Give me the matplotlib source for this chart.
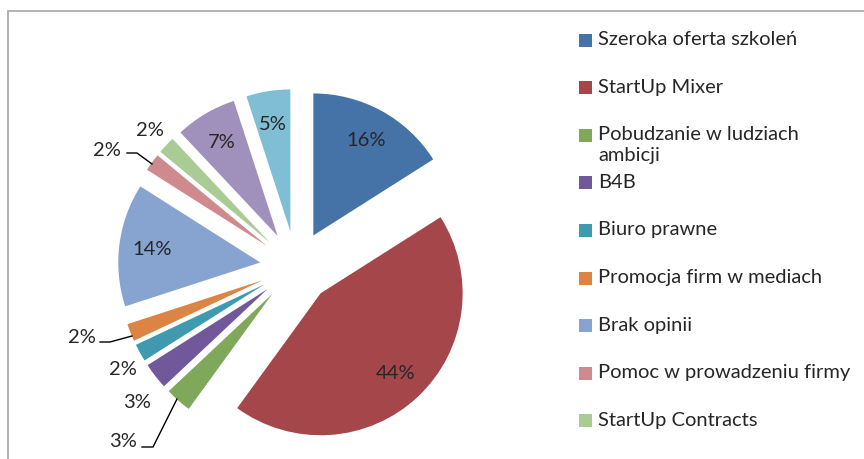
import matplotlib.pyplot as plt
from matplotlib.patches import Rectangle

plt.rcParams['font.family'] = ['Lato', 'DejaVu Sans']

# shares in clockwise order from 12 o'clock
shares = [16, 44, 3, 3, 2, 2, 14, 2, 2, 7, 5]
colors = ['#4572A7', '#A5474A', '#80A85A', '#71589B', '#3F9AAF', '#DB8444',
          '#87A3CF', '#CF8A8D', '#A8CC94', '#9F91BC', '#80BED5']
# only the first nine legend entries are visible in the picture
legend_labels = ['Szeroka oferta szkoleń', 'StartUp Mixer',
                 'Pobudzanie w ludziach\nambicji', 'B4B', 'Biuro prawne',
                 'Promocja firm w mediach', 'Brak opinii',
                 'Pomoc w prowadzeniu firmy', 'StartUp Contracts']

W, H = 864, 460
FS = 14.5
fig = plt.figure(figsize=(8.64, 4.6), dpi=100)
ax = fig.add_axes([0, 0, 1, 1])

def py(y):
    # pixel row (from top) -> data y
    return H - y

cx, cy, r, gap = 296, py(268), 142, 36
wedges, texts, autotexts = ax.pie(
    shares, colors=colors, startangle=90, counterclock=False,
    radius=r, center=(cx, cy), explode=[gap] * len(shares),
    autopct=lambda p: f'{p:.0f}%' if p >= 4.5 else '', pctdistance=0.77,
    wedgeprops=dict(linewidth=0),
    textprops=dict(fontsize=FS, color='#262626'))

ax.set_xlim(0, W)
ax.set_ylim(0, H)
ax.set_aspect('equal')
ax.axis('off')

# outside labels for the thin slices: (index, text x, text y, leader line)
outside = [
    (2, 123, 442, [(142, 448), (153, 448), (177, 400)]),
    (3, 137, 403, None),
    (4, 123, 370, None),
    (5, 82, 338, [(100, 343), (110, 343), (132, 337)]),
    (7, 107, 150, [(127, 154), (137, 154), (152, 165)]),
    (8, 150, 130, None),
]
for i, tx, ty, lead in outside:
    ax.text(tx, py(ty), f'{shares[i]}%', ha='center', va='center',
            fontsize=FS, color='#262626')
    if lead:
        ax.plot([p[0] for p in lead], [py(p[1]) for p in lead],
                color='black', lw=1)

# legend drawn by hand so the wrapped entry keeps its marker on the first line
for k, lab in enumerate(legend_labels):
    yc = 41 + k * 47.6
    ax.add_patch(Rectangle((579, py(yc) - 6.5), 13, 13, color=colors[k], lw=0))
    ax.text(598, py(yc - 10), lab, ha='left', va='top', fontsize=FS,
            color='#262626', linespacing=1.3)

# chart area border
ax.add_patch(Rectangle((8, -10), W + 20, py(12) + 10, fill=False,
                       edgecolor='#A6A6A6', lw=1.2))

fig.savefig('out.png', dpi=100)
